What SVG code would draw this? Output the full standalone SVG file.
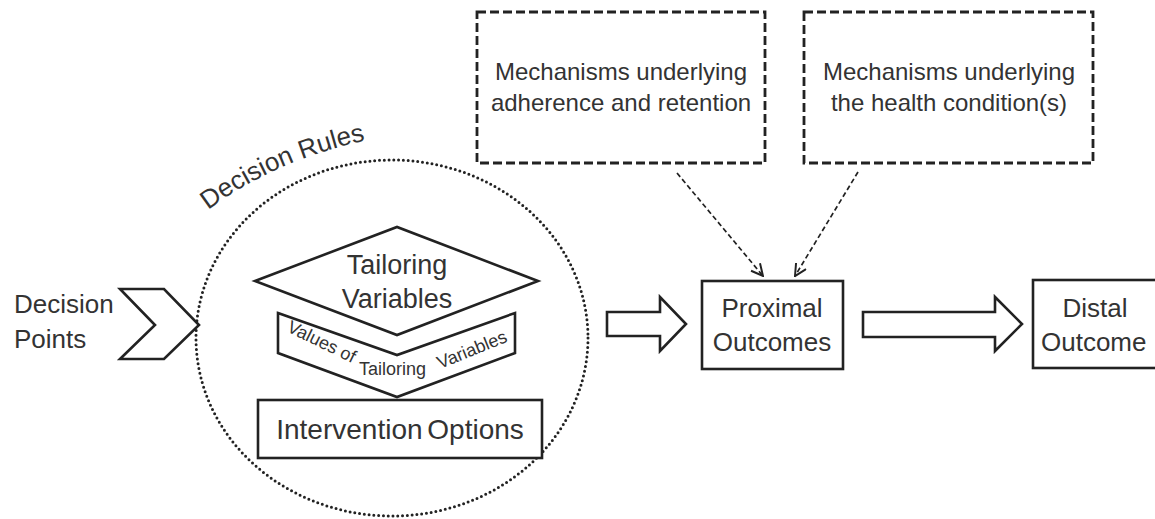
<svg xmlns="http://www.w3.org/2000/svg" width="1155" height="519" viewBox="0 0 1155 519">
  <defs>
    <style>
      .t { font-family: "Liberation Sans", Arial, sans-serif; fill: #333; }
      .shape { fill: #fff; stroke: #222; stroke-width: 2.6; stroke-linejoin: miter; }
      .dashbox { fill: none; stroke: #222; stroke-width: 2.8; stroke-dasharray: 9 4; }
      .dotted { fill: none; stroke: #222; stroke-width: 3; stroke-dasharray: 0 4.8; stroke-linecap: round; }
      .dline { fill: none; stroke: #222; stroke-width: 1.7; stroke-dasharray: 5 3; }
    </style>
    <marker id="openArrow" viewBox="0 0 12 12" refX="11" refY="6" markerWidth="14" markerHeight="14" markerUnits="userSpaceOnUse" orient="auto">
      <path d="M1,1 L11,6 L1,11" fill="none" stroke="#222" stroke-width="1.7"/>
    </marker>
  </defs>
  <rect width="1155" height="519" fill="#fff"/>

  <g id="decision-rules">
    <ellipse class="dotted" cx="392" cy="338" rx="196" ry="178"/>
    <path id="drPath" d="M 208 210 Q 285 152 400 134" fill="none"/>
    <text class="t" font-size="26"><textPath href="#drPath">Decision Rules</textPath></text>
  </g>

  <g id="decision-points">
    <polygon class="shape" points="120,289 164,289 199,325 164,359 120,359 155,325"/>
    <text class="t" font-size="26" x="14" y="313">Decision</text>
    <text class="t" font-size="26" x="14" y="348">Points</text>
  </g>

  <g id="tailoring-variables">
    <polygon class="shape" points="255,281 397,227 538,281 397,335"/>
    <text class="t" font-size="27" x="397" y="274" text-anchor="middle">Tailoring</text>
    <text class="t" font-size="27" x="397" y="308" text-anchor="middle">Variables</text>
  </g>

  <g id="values-of-tailoring-variables">
    <polygon class="shape" points="278,313 397,355 515,313 515,353 397,397 278,353"/>
    <text class="t" font-size="18" x="286" y="331" transform="rotate(26 286 331)">Values of</text>
    <text class="t" font-size="18" x="359" y="375">Tailoring</text>
    <text class="t" font-size="18" x="440" y="369" transform="rotate(-22 440 369)">Variables</text>
  </g>

  <g id="intervention-options">
    <rect class="shape" x="258" y="400" width="284" height="58"/>
    <text class="t" font-size="28" x="400" y="439" text-anchor="middle" word-spacing="-3">Intervention Options</text>
  </g>

  <g id="mech-adherence">
    <rect class="dashbox" x="477" y="12" width="288" height="151"/>
    <text class="t" font-size="24" x="621" y="80" text-anchor="middle">Mechanisms underlying</text>
    <text class="t" font-size="24" x="621" y="111" text-anchor="middle">adherence and retention</text>
  </g>

  <g id="mech-health">
    <rect class="dashbox" x="804" y="12" width="289" height="151"/>
    <text class="t" font-size="24" x="949" y="80" text-anchor="middle">Mechanisms underlying</text>
    <text class="t" font-size="24" x="949" y="111" text-anchor="middle">the health condition(s)</text>
  </g>

  <g id="proximal-outcomes">
    <rect class="shape" x="702" y="281" width="141" height="88"/>
    <text class="t" font-size="26" x="772" y="317" text-anchor="middle">Proximal</text>
    <text class="t" font-size="26" x="772" y="351" text-anchor="middle">Outcomes</text>
  </g>

  <g id="distal-outcome">
    <rect class="shape" x="1033" y="280" width="130" height="88"/>
    <text class="t" font-size="26" x="1095" y="317" text-anchor="middle">Distal</text>
    <text class="t" font-size="26" x="1041" y="351">Outcome</text>
  </g>

  <g id="connectors">
    <polygon class="shape" points="607,312 660,312 660,297 686,324 660,351 660,336 607,336"/>
    <polygon class="shape" points="863,312 995,312 995,297 1022,324 995,351 995,337 863,337"/>
    <line class="dline" x1="677" y1="173" x2="763" y2="276" marker-end="url(#openArrow)"/>
    <line class="dline" x1="858" y1="172" x2="795" y2="276" marker-end="url(#openArrow)"/>
  </g>
</svg>
